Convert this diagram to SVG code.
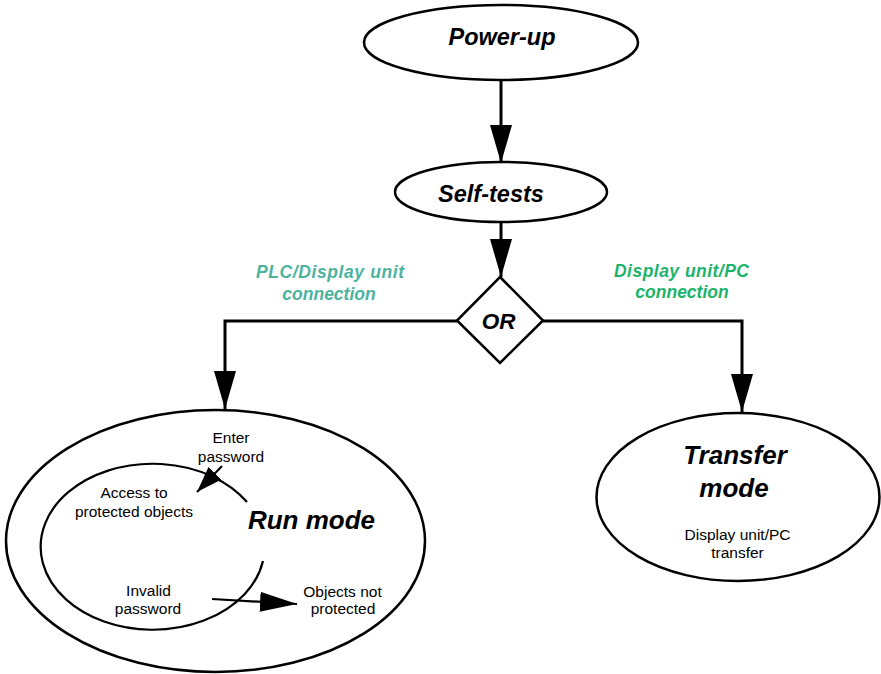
<svg xmlns="http://www.w3.org/2000/svg" width="881" height="674" viewBox="0 0 881 674">
<defs>
<style>
.shape{fill:#fff;stroke:#000;stroke-width:2.5}
.line{fill:none;stroke:#000;stroke-width:3}
.thin{fill:none;stroke:#000;stroke-width:2.2}
.title{font-family:"Liberation Sans",Arial,sans-serif;font-weight:bold;font-style:italic;fill:#000;text-anchor:middle}
.small{font-family:"Liberation Sans",Arial,sans-serif;font-size:15.5px;fill:#000;text-anchor:middle}
.lab{font-family:"Liberation Sans",Arial,sans-serif;font-weight:bold;font-style:italic;font-size:17.5px;text-anchor:middle}
</style>
<marker id="big" markerUnits="userSpaceOnUse" markerWidth="38" markerHeight="22" refX="38" refY="11" orient="auto">
<path d="M0,0 L38,11 L0,22 z" fill="#000"/>
</marker>
<marker id="mid" markerUnits="userSpaceOnUse" markerWidth="37" markerHeight="20" refX="37" refY="10" orient="auto">
<path d="M0,0 L37,10 L0,20 z" fill="#000"/>
</marker>
<marker id="sm" markerUnits="userSpaceOnUse" markerWidth="26" markerHeight="20" refX="26" refY="10" orient="auto">
<path d="M0,1 L26,10 L0,19 z" fill="#000"/>
</marker>
</defs>
<rect width="881" height="674" fill="#fff"/>

<g id="connectors">
<path class="line" d="M501,80 L501,163" marker-end="url(#big)"/>
<path class="line" d="M501,222 L501,277" marker-end="url(#big)"/>
<path class="line" d="M457,321 L225,321 L225,409" marker-end="url(#big)"/>
<path class="line" d="M543,321 L742,321 L742,412" marker-end="url(#big)"/>
</g>

<g id="power-up">
<ellipse class="shape" cx="501" cy="42.5" rx="137" ry="37.5"/>
<text class="title" x="502" y="45" font-size="23.5">Power-up</text>
</g>

<g id="self-tests">
<ellipse class="shape" cx="501" cy="192" rx="106" ry="30"/>
<text class="title" x="491" y="202" font-size="23.5">Self-tests</text>
</g>

<g id="or">
<path class="shape" d="M500,277 L543,320.5 L500,363 L457,320.5 z"/>
<text class="title" x="498.5" y="329" font-size="22.5">OR</text>
</g>

<g id="label-left">
<text class="lab" fill="#4CB39F" x="330" y="278" textLength="148" lengthAdjust="spacing">PLC/Display unit</text>
<text class="lab" fill="#4CB39F" x="329" y="300">connection</text>
</g>

<g id="label-right">
<text class="lab" fill="#1CB36B" x="681.5" y="277" textLength="135" lengthAdjust="spacing">Display unit/PC</text>
<text class="lab" fill="#1CB36B" x="682" y="298">connection</text>
</g>

<g id="run-mode">
<ellipse class="shape" cx="215.5" cy="541" rx="209.5" ry="131"/>
<path class="thin" d="M247,502 A112,83 0 1 0 263,561"/>
<path class="thin" d="M222,466 L197,492" marker-end="url(#sm)"/>
<path class="thin" d="M212,599 L297,604" marker-end="url(#mid)"/>
<text class="title" x="311.5" y="529" font-size="26">Run mode</text>
<text class="small" x="231" y="443">Enter</text>
<text class="small" x="231" y="462">password</text>
<text class="small" x="134" y="498">Access to</text>
<text class="small" x="134" y="517">protected objects</text>
<text class="small" x="148.5" y="596">Invalid</text>
<text class="small" x="148" y="614">password</text>
<text class="small" x="342.5" y="597">Objects not</text>
<text class="small" x="343" y="614">protected</text>
</g>

<g id="transfer-mode">
<ellipse class="shape" cx="738" cy="497" rx="141.5" ry="84"/>
<text class="title" x="735" y="464" font-size="26">Transfer</text>
<text class="title" x="734" y="497" font-size="26">mode</text>
<text class="small" x="737.5" y="540">Display unit/PC</text>
<text class="small" x="737.5" y="558">transfer</text>
</g>
</svg>
